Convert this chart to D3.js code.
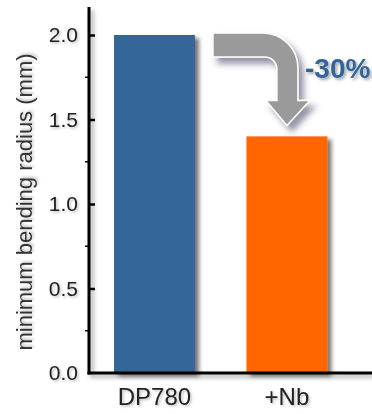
<!DOCTYPE html>
<html>
<head>
<meta charset="utf-8">
<script src="https://cdn.jsdelivr.net/npm/d3@7"></script>
<style>
  html, body { margin: 0; padding: 0; background: #fff; }
  svg { display: block; font-family: "Liberation Sans", Arial, sans-serif; }
</style>
</head>
<body>
<svg id="chart" width="372" height="414"></svg>
<script>
// Minimum bending radius of DP780 vs Nb-alloyed steel
const categories = ["DP780", "+Nb"];
const radiusValues = [2.0, 1.4];
const barColors = ["#346699", "#ff6600"];
const tickValues = [0, 0.5, 1.0, 1.5, 2.0];
const minorTickValues = [0.25, 0.75, 1.25, 1.75];
const reductionLabel = "-30%";
const yTitle = "minimum bending radius (mm)";

const svg = d3.select("#chart");
const W = 372, H = 414;
const axisX = 89, baseY = 373;

const y = d3.scaleLinear().domain([0, 2.0]).range([baseY, 35]);
const x = d3.scaleBand().domain(categories)
  .range([axisX, 352.4]).paddingInner(0.389).paddingOuter(0.189);

// soft drop shadows
const defs = svg.append("defs");
function shadow(id, dx, dy, sd, color, op) {
  const f = defs.append("filter").attr("id", id)
    .attr("x", "-30%").attr("y", "-30%").attr("width", "160%").attr("height", "160%");
  f.append("feDropShadow").attr("dx", dx).attr("dy", dy)
    .attr("stdDeviation", sd).attr("flood-color", color).attr("flood-opacity", op);
}
shadow("barShadow", 4, 3, 2, "#000", 0.55);
shadow("axisShadow", 3, 3, 2, "#000", 0.35);
shadow("textShadow", 1.5, 1.5, 1, "#000", 0.25);
shadow("arrowShadow", 5, 6, 3, "#3a3a5a", 0.55);
shadow("labelShadow", 2, 2, 1.5, "#000", 0.35);

// bars
svg.append("g").selectAll("rect")
  .data(categories)
  .join("rect")
  .attr("x", d => x(d))
  .attr("width", x.bandwidth())
  .attr("y", (d, i) => y(radiusValues[i]))
  .attr("height", (d, i) => y(0) - y(radiusValues[i]))
  .attr("fill", (d, i) => barColors[i])
  .attr("filter", "url(#barShadow)");

// axes
const axes = svg.append("g").attr("filter", "url(#axisShadow)");
axes.append("line")
  .attr("x1", axisX).attr("x2", axisX)
  .attr("y1", 7).attr("y2", baseY + 1.5)
  .attr("stroke", "#000").attr("stroke-width", 3);
axes.append("line")
  .attr("x1", axisX - 1.5).attr("x2", W)
  .attr("y1", baseY).attr("y2", baseY)
  .attr("stroke", "#000").attr("stroke-width", 3);

const yAxis = d3.axisLeft(y).tickValues(tickValues)
  .tickFormat(d3.format(".1f"))
  .tickSizeInner(-6).tickSizeOuter(0).tickPadding(11);
const yg = svg.append("g").attr("transform", `translate(${axisX},0)`).call(yAxis);
yg.select(".domain").remove();
yg.selectAll(".tick line").attr("stroke", "#000").attr("stroke-width", 2.5)
  .attr("x1", 1).attr("x2", 6);
yg.selectAll(".tick").filter(d => d === 0).select("line").remove();
yg.selectAll(".tick text")
  .attr("font-size", 21).attr("fill", "#222")
  .attr("filter", "url(#textShadow)");

// minor ticks
svg.append("g").selectAll("line")
  .data(minorTickValues)
  .join("line")
  .attr("x1", axisX - 4).attr("x2", axisX)
  .attr("y1", d => y(d)).attr("y2", d => y(d))
  .attr("stroke", "#000").attr("stroke-width", 1.5);

// category labels
svg.append("g").selectAll("text")
  .data(categories)
  .join("text")
  .attr("x", d => x(d) + x.bandwidth() / 2)
  .attr("y", 405)
  .attr("text-anchor", "middle")
  .attr("font-size", 24)
  .attr("fill", "#222")
  .attr("filter", "url(#textShadow)")
  .text(d => d);

// y-axis title
svg.append("text")
  .attr("transform", `translate(32,${(57 + 347) / 2}) rotate(-90)`)
  .attr("text-anchor", "middle")
  .attr("font-size", 22)
  .attr("fill", "#333")
  .attr("filter", "url(#textShadow)")
  .text(yTitle);

// curved arrow from the DP780 bar down to the +Nb bar
const xL = x(categories[0]) + x.bandwidth() + 18;
const topY = y(radiusValues[0]) - 2;
const shaft = 24;
const tipX = x(categories[1]) + x.bandwidth() / 2;
const tipY = y(radiusValues[1]) - 11;
const outerX = tipX + 11, innerX = outerX - 21;
const headY = tipY - 25;
const p = d3.path();
p.moveTo(xL, topY);
p.lineTo(outerX - 35, topY);
p.arcTo(outerX, topY, outerX, topY + 35, 35);
p.lineTo(outerX, headY);
p.lineTo(outerX + 12, headY);
p.lineTo(tipX, tipY);
p.lineTo(innerX - 11, headY);
p.lineTo(innerX, headY);
p.lineTo(innerX, topY + shaft + 12);
p.arcTo(innerX, topY + shaft, innerX - 12, topY + shaft, 12);
p.lineTo(xL, topY + shaft);
p.closePath();
svg.append("path")
  .attr("d", p.toString())
  .attr("fill", "#9a9a9a")
  .attr("stroke", "#fff").attr("stroke-width", 1.5)
  .attr("stroke-linejoin", "miter")
  .attr("filter", "url(#arrowShadow)");

// reduction label
svg.append("text")
  .attr("x", 305).attr("y", 78)
  .attr("font-size", 28).attr("font-weight", "bold")
  .attr("fill", "#336699")
  .attr("filter", "url(#labelShadow)")
  .text(reductionLabel);
</script>
</body>
</html>
